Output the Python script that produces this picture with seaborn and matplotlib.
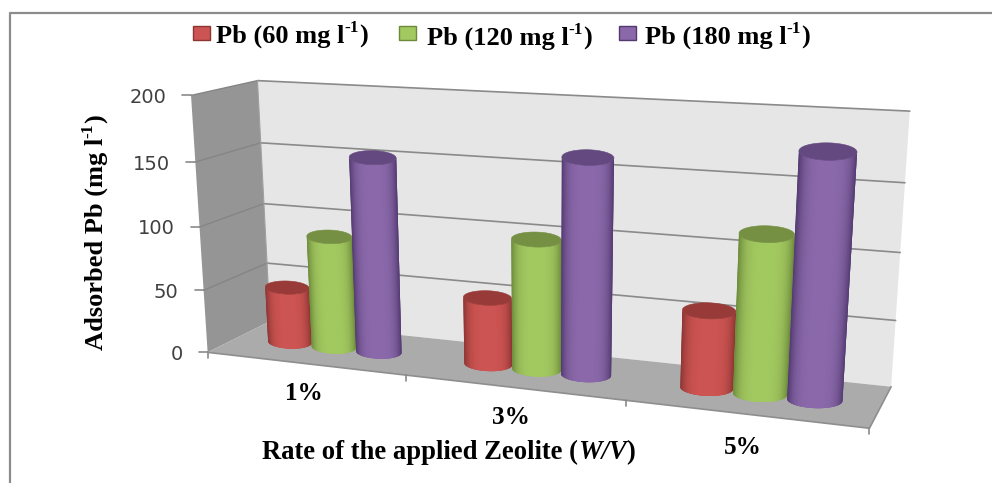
import numpy as np
import pandas as pd
import matplotlib
matplotlib.use('Agg')
import matplotlib.pyplot as plt
from matplotlib.collections import PolyCollection
from matplotlib.patches import Polygon, Rectangle
import seaborn as sns

# values
rates = ['1%', '3%', '5%']
pb_60 = [45, 52, 58]
pb_120 = [89, 100, 117]
pb_180 = [153, 163, 177]
series_names = ['Pb (60 mg l', 'Pb (120 mg l', 'Pb (180 mg l']
y_ticks = [0, 50, 100, 150, 200]

# centre, edge and cap colours of the cylinders
centre_colors = ['#CC5452', '#A2C860', '#8A68AA']
edge_colors = ['#8C3533', '#6C8A3A', '#523A70']
cap_colors = ['#983A38', '#758F43', '#63497F']

sns.set_theme(style='white')
plt.rcParams['font.family'] = ['Liberation Serif', 'DejaVu Sans']

df = pd.DataFrame({
    'rate': rates * 3,
    'series': np.repeat(series_names, 3),
    'value': pb_60 + pb_120 + pb_180,
})

# seaborn works out the clustered bar layout, the cylinders are built from it
layout_fig, layout_ax = plt.subplots()
sns.barplot(data=df, x='rate', y='value', hue='series', width=0.69, gap=0,
            legend=False, ax=layout_ax)
bars = [[(b.get_x(), b.get_width(), b.get_height()) for b in c] for c in layout_ax.containers]
plt.close(layout_fig)

# camera fit: (position along x, depth, value) -> picture pixel
calib = [
    (0, 0, 0, 209, 350), (1/3, 0, 0, 406, 378), (2/3, 0, 0, 625, 403), (1, 0, 0, 870, 426),
    (0, 1, 0, 269, 323), (1, 1, 0, 891, 386),
    (0, 0, 50, 203, 290), (0, 0, 100, 200, 227), (0, 0, 150, 194, 162), (0, 0, 200, 192, 95),
    (0, 1, 50, 268, 262), (0, 1, 100, 265, 203), (0, 1, 150, 260, 143), (0, 1, 200, 257, 81),
    (1, 1, 50, 896, 320), (1, 1, 100, 900, 252), (1, 1, 150, 905, 183), (1, 1, 200, 910, 112),
]
A, b = [], []
for u, d, v, px, py in calib:
    A.append([u, d, v, 1, 0, 0, 0, 0, -px * u, -px * d, -px * v])
    A.append([0, 0, 0, 0, u, d, v, 1, -py * u, -py * d, -py * v])
    b += [px, py]
cam = np.append(np.linalg.lstsq(np.array(A, float), np.array(b, float), rcond=None)[0], 1).reshape(3, 4)


def project(u, d, v):
    u, d, v = np.broadcast_arrays(u, d, v)
    p = cam @ np.vstack([u.ravel(), d.ravel(), v.ravel(), np.ones(u.size)])
    return np.column_stack([p[0] / p[2], p[1] / p[2]])


def quad(a, b, c, e):
    return np.vstack([project(*a), project(*b), project(*c), project(*e)])


def disc_points(u0, ur, v, angles):
    # ellipse stays nearly level on screen, only a little of the x axis slope
    left, right = project([u0 - ur, u0 + ur], depth, v)
    centre = (left + right) / 2
    half = (right - left) / 2
    minor = ellipse_ratio * (right[0] - left[0])
    return np.column_stack([centre[0] + half[0] * np.cos(angles),
                            centre[1] + 0.35 * half[1] * np.cos(angles) - minor * np.sin(angles)])


fig = plt.figure(figsize=(9.92, 4.83), dpi=100)
ax = fig.add_axes([0, 0, 1, 1])
ax.set_xlim(0, 992)
ax.set_ylim(483, 0)
ax.axis('off')
renderer = fig.canvas.get_renderer()


def rich_text(x, y, parts, size=19.0, vertical=False):
    # parts are (text, style, raised) written one after the other from the baseline at x, y
    for s, style, raised in parts:
        fs = size * 0.66 if raised else size
        lift = 11 if raised else 0
        tx, ty = (x - lift, y) if vertical else (x, y - lift)
        t = ax.text(tx, ty, s, fontsize=fs, fontweight='bold', fontstyle=style, color='black',
                    ha='left', va='baseline', rotation=90 if vertical else 0,
                    rotation_mode='anchor')
        box = t.get_window_extent(renderer)
        if vertical:
            y -= box.height
        else:
            x += box.width


# frame, only top and left are visible
ax.plot([10, 10, 992], [483, 13, 13], color='#8C8C8C', lw=1.6)

# walls and floor
ax.add_patch(Polygon(quad((0, 1, 0), (1, 1, 0), (1, 1, 200), (0, 1, 200)), color='#E6E6E6', lw=0))
ax.add_patch(Polygon(quad((0, 0, 0), (0, 1, 0), (0, 1, 200), (0, 0, 200)), color='#959595', lw=0))
ax.add_patch(Polygon(quad((0, 0, 0), (1, 0, 0), (1, 1, 0), (0, 1, 0)), color='#ABABAB', lw=0))

for v in y_ticks[1:]:
    pts = project([0, 0, 1], [0, 1, 1], v)
    ax.plot(pts[:2, 0], pts[:2, 1], color='#858585', lw=1)
    ax.plot(pts[1:, 0], pts[1:, 1], color='#8A8A8A', lw=1.2)

pts = project([0, 1, 1], [0, 0, 1], 0)
ax.plot(pts[:, 0], pts[:, 1], color='#8E8E8E', lw=1.2)
pts = project([0, 0], [1, 1], [0, 200])
ax.plot(pts[:, 0], pts[:, 1], color='#A0A0A0', lw=0.8)

# ticks
for v in y_ticks:
    p = project(0, 0, v)[0]
    ax.plot([p[0] - 9, p[0]], [p[1], p[1]], color='#8A8A8A', lw=1.2)
    ax.text(p[0] - 25, p[1] + 2, str(v), ha='right', va='center', color='#404040',
            fontsize=14, family='DejaVu Sans')
for u in [0, 1/3, 2/3, 1]:
    p = project(u, 0, 0)[0]
    ax.plot([p[0], p[0]], [p[1], p[1] + 6], color='#8A8A8A', lw=1.2)

# cylinders
depth = 0.49
ellipse_ratio = 0.15
ang = np.linspace(np.pi, 2 * np.pi, 41)
circle = np.linspace(0, 2 * np.pi, 61)
for s, row in enumerate(bars):
    c0 = np.array(matplotlib.colors.to_rgb(centre_colors[s]))
    c1 = np.array(matplotlib.colors.to_rgb(edge_colors[s]))
    for x, w, h in row:
        u0 = (x + w / 2 + 0.5) / 3
        ur = w / 2 / 3
        strips, cols = [], []
        for i in range(len(ang) - 1):
            # each strip runs over the next one so no seams show
            arc = np.linspace(ang[i], ang[min(i + 3, len(ang) - 1)], 5)
            strips.append(np.vstack([disc_points(u0, ur, 0, arc), disc_points(u0, ur, h, arc[::-1])]))
            shade = 1 - abs(np.cos((ang[i] + ang[i + 1]) / 2)) ** 4
            cols.append(c1 + (c0 - c1) * shade)
        ax.add_collection(PolyCollection(strips, facecolors=cols, edgecolors='none', linewidths=0, zorder=3))
        ax.add_patch(Polygon(disc_points(u0, ur, h, circle), color=cap_colors[s], lw=0.4, zorder=3))

# legend
for i, (mx, tx, ty) in enumerate([(193, 216, 43), (399, 427, 45), (619, 645, 44)]):
    ax.add_patch(Rectangle((mx, 26), 17, 14, facecolor=centre_colors[i], edgecolor=edge_colors[i], lw=1))
    rich_text(tx, ty, [(series_names[i], 'normal', False), ('-1', 'normal', True), (')', 'normal', False)])

# category labels sit lower on the right side
for name, lx, ly in zip(rates, [304, 511, 743], [400, 424, 454]):
    ax.text(lx, ly, name, ha='center', va='baseline', fontsize=18.2, fontweight='bold', color='black')

rich_text(262, 459, [('Rate of the applied Zeolite (', 'normal', False), ('W/V', 'italic', False), (')', 'normal', False)], size=19.2)
rich_text(103, 350, [('Adsorbed Pb (mg l', 'normal', False), ('-1', 'normal', True), (')', 'normal', False)], vertical=True)

fig.savefig('out.png', dpi=100)
